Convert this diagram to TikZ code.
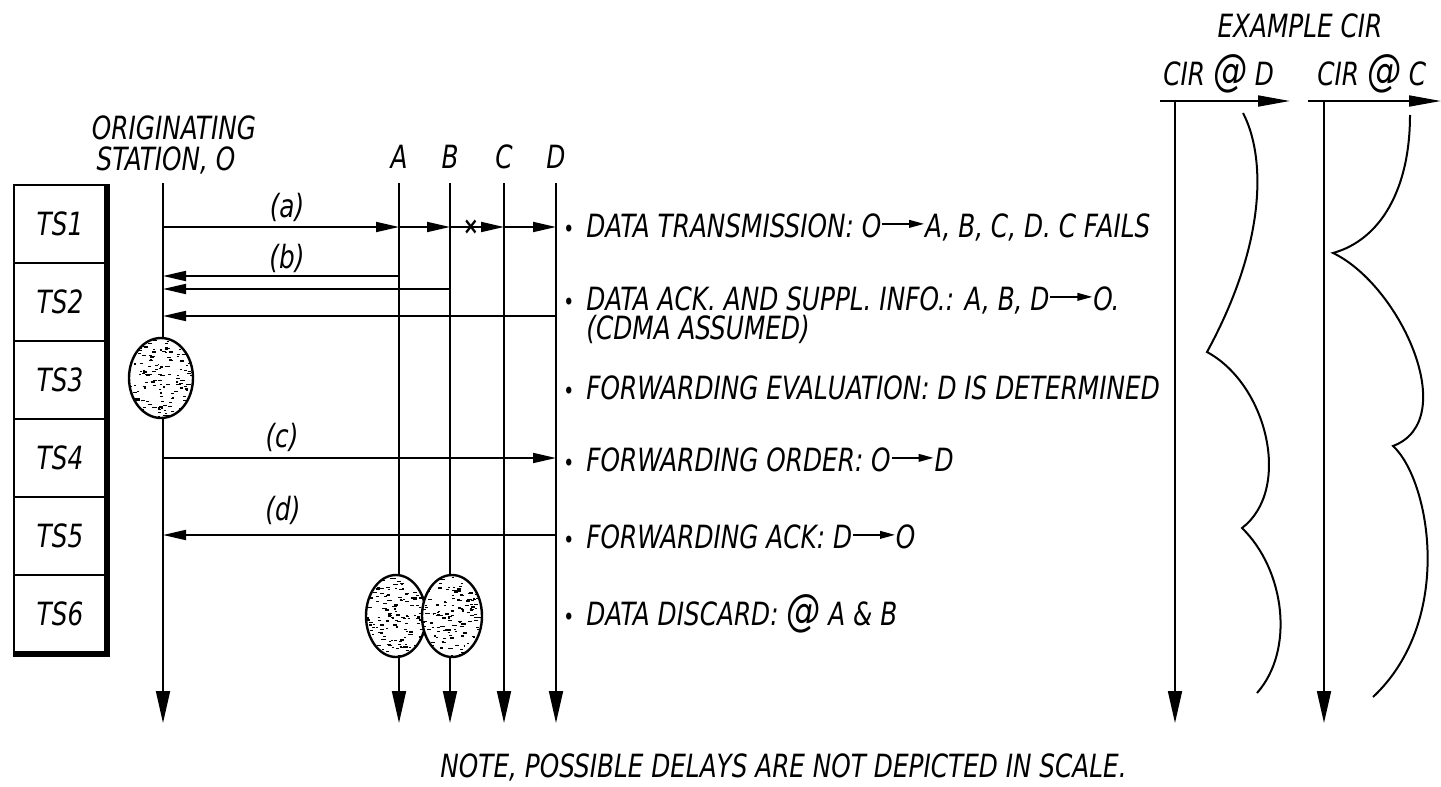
\documentclass[tikz,border=0pt]{standalone}
\usepackage{fontspec}
\setmainfont[FakeStretch=0.86,ItalicFont={DejaVu Sans Condensed Oblique}]{DejaVu Sans Condensed}
\usetikzlibrary{arrows.meta}

\newcommand{\txtarrow}{\tikz[baseline=-0.75ex]\draw[line width=0.9pt,-{Triangle[length=7.5pt,width=3.8pt]}] (0,0) -- (21pt,0);}
\newcommand{\bul}{{\fontsize{12}{12}\selectfont •}\hspace{6pt}}

\begin{document}
\begin{tikzpicture}[x=0.5pt,y=-0.5pt,
    font=\itshape\fontsize{16}{19}\selectfont,
    life/.style={line width=0.9pt,-{Triangle[length=16pt,width=7pt]}},
    msg/.style={line width=0.9pt,-{Triangle[length=11.5pt,width=5pt]}},
    slot/.style={draw,line width=1pt,minimum width=46pt,minimum height=39pt,inner sep=0pt},
    txt/.style={anchor=base west,inner sep=0pt}]
  \useasboundingbox (0,0) rectangle (1441,787);
  % time slots on the left

  \node[slot] (ts1) at (60,224) {TS1};
  \node[slot] (ts2) at (60,302) {TS2};
  \node[slot] (ts3) at (60,380) {TS3};
  \node[slot] (ts4) at (60,458) {TS4};
  \node[slot] (ts5) at (60,536) {TS5};
  \node[slot] (ts6) at (60,614) {TS6};
  \draw[line width=2.6pt] (ts1.north east) -- (ts6.south east) -- (ts6.south west);

  % station labels
  \node (orig1) at (174,128) {ORIGINATING};
  \node (orig2) at (166,160) {STATION, O};
  \node[anchor=base] (labA) at (399,168) {A};
  \node[anchor=base] (labB) at (450,168) {B};
  \node[anchor=base] (labC) at (504,168) {C};
  \node[anchor=base] (labD) at (556,168) {D};

  % life lines
  \coordinate (Ot) at (163,183);  \coordinate (Ob) at (163,723);
  \coordinate (At) at (399,183);  \coordinate (Ab) at (399,723);
  \coordinate (Bt) at (450,183);  \coordinate (Bb) at (450,723);
  \coordinate (Ct) at (504,183);  \coordinate (Cb) at (504,723);
  \coordinate (Dt) at (556,183);  \coordinate (Db) at (556,723);

  \draw[life] (Ot) -- (Ob);
  \draw[life] (At) -- (Ab);
  \draw[life] (Bt) -- (Bb);
  \draw[life] (Ct) -- (Cb);
  \draw[life] (Dt) -- (Db);

  % (a) data transmission
  \coordinate (Oa) at (163,227);
  \coordinate (Aa) at (399,227);
  \coordinate (Ba) at (450,227);
  \coordinate (Ca) at (504,227);
  \coordinate (Da) at (556,227);
  \draw[msg] (Oa) -- (Aa);
  \draw[msg] (Aa) -- (Ba);
  \draw[msg] (Ba) -- (Ca);
  \draw[msg] (Ca) -- (Da);
  \node[font=\bfseries\fontsize{12}{12}\selectfont,inner sep=0pt] (fail) at (471,227) {×};
  \node (la) at (287,207) {(a)};

  % (b) acknowledgements
  \coordinate (Ab1) at (399,276);  \coordinate (Ob1) at (163,276);
  \coordinate (Bb2) at (450,289);  \coordinate (Ob2) at (163,289);
  \coordinate (Db3) at (556,316);  \coordinate (Ob3) at (163,316);
  \draw[msg] (Ab1) -- (Ob1);
  \draw[msg] (Bb2) -- (Ob2);
  \draw[msg] (Db3) -- (Ob3);
  \node (lb) at (287,258) {(b)};

  % (c) forwarding order, (d) forwarding ack
  \coordinate (Oc) at (163,458);  \coordinate (Dc) at (556,458);
  \coordinate (Od) at (163,535);  \coordinate (Dd) at (556,535);
  \draw[msg] (Oc) -- (Dc);
  \draw[msg] (Dd) -- (Od);
  \node (lc) at (282,437) {(c)};
  \node (ld) at (283,510) {(d)};

  % evaluation and discard blobs
  \coordinate (E1) at (161,378);
  \coordinate (E2) at (396,616);
  \coordinate (E3) at (452,616);
  \pgfmathsetseed{17}
  \foreach \c/\rx/\ry in {E1/32/40,E2/30/41,E3/30/41}{
    \fill[white] (\c) ellipse [x radius=\rx, y radius=\ry];
    \begin{scope}
      \clip (\c) ellipse [x radius=\rx, y radius=\ry];
      \foreach \k in {1,...,170}{
        \pgfmathsetmacro{\dx}{\rx*rand}
        \pgfmathsetmacro{\dy}{\ry*rand}
        \pgfmathsetmacro{\dl}{1.5+3*rnd}
        \draw[line width=0.6pt,shift={(\c)}] (\dx,\dy) -- ++(\dl,0);
      }
    \end{scope}
    \draw[line width=1.2pt] (\c) ellipse [x radius=\rx, y radius=\ry];
  }

  % step descriptions
  \node[txt] (n1) at (563,237) {\bul DATA TRANSMISSION: O\txtarrow A, B, C, D. C FAILS};
  \node[txt] (n2) at (563,310) {\bul DATA ACK. AND SUPPL. INFO.: A, B, D\txtarrow O.};
  \node[txt] (n2b) at (586,339) {(CDMA ASSUMED)};
  \node[txt] (n3) at (563,399) {\bul FORWARDING EVALUATION: D IS DETERMINED};
  \node[txt] (n4) at (563,471) {\bul FORWARDING ORDER: O\txtarrow D};
  \node[txt] (n5) at (563,548) {\bul FORWARDING ACK: D\txtarrow O};
  \node[txt] (n6) at (563,625) {\bul DATA DISCARD: {\fontsize{22}{22}\selectfont @} A \& B};
  \node[txt] (note) at (440,777) {NOTE, POSSIBLE DELAYS ARE NOT DEPICTED IN SCALE.};

  % example CIR curves
  \node[anchor=base] (cirhead) at (1300,37) {EXAMPLE CIR};
  \node[txt] (cirD) at (1163,85) {CIR {\fontsize{22}{22}\selectfont @} D};
  \node[txt] (cirC) at (1317,85) {CIR {\fontsize{22}{22}\selectfont @} C};

  \coordinate (D0) at (1160,101);  \coordinate (D1) at (1290,101);
  \coordinate (C0) at (1308,101);  \coordinate (C1) at (1441,101);
  \coordinate (Dv) at (1175,101);  \coordinate (Dw) at (1175,723);
  \coordinate (Cv) at (1324,101);  \coordinate (Cw) at (1324,723);
  \draw[line width=0.9pt,-{Triangle[length=16pt,width=5.5pt]}] (D0) -- (D1);
  \draw[line width=0.9pt,-{Triangle[length=16pt,width=5.5pt]}] (C0) -- (C1);
  \draw[life] (Dv) -- (Dw);
  \draw[life] (Cv) -- (Cw);

  \draw[line width=1pt] (1243,113) .. controls (1265,155) and (1268,240) .. (1207,352)
                        .. controls (1268,385) and (1292,490) .. (1242,528)
                        .. controls (1285,570) and (1295,650) .. (1257,693);
  \draw[line width=1pt] (1410,115) .. controls (1410,190) and (1380,240) .. (1333,253)
                        .. controls (1400,285) and (1462,420) .. (1393,446)
                        .. controls (1430,480) and (1455,620) .. (1373,697);
\end{tikzpicture}
\end{document}
